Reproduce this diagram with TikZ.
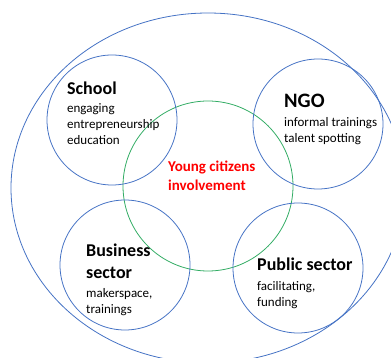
\documentclass[tikz,border=0pt]{standalone}
\usepackage{fontspec}
\setmainfont{Carlito}
\usepackage{tikz}
\usetikzlibrary{positioning}
\definecolor{ringblue}{RGB}{68,114,196}
\definecolor{ringgreen}{RGB}{50,172,100}
\definecolor{hotred}{RGB}{255,0,0}

\begin{document}
\begin{tikzpicture}[x=1pt,y=-1pt,
  ring/.style={draw=ringblue,line width=0.8pt,circle,minimum size=130pt,inner sep=0pt},
  head/.style={anchor=base west,inner sep=0pt,font={\fontsize{18}{21}\selectfont\bfseries}},
  body/.style={anchor=base west,inner sep=0pt,align=left,font={\fontsize{13}{16}\selectfont}}]
\useasboundingbox (0,0) rectangle (391,358);

\begin{scope}
\clip (0,0) rectangle (391,358);
\draw[ringblue,line width=0.8pt] (208,188) ellipse (197 and 175);
\end{scope}

\node[draw=ringgreen,line width=0.8pt,circle,minimum size=170pt,inner sep=0pt] (young) at (208,186) {};
\node[ring] (school) at (112,120) {};
\node[ring] (ngo) at (318,124) {};
\node[ring] (business) at (125,265) {};
\node[ring] (public) at (298,268) {};

% multi-line nodes sit on the baseline of their last line
\node[head] (schoolT) at (67,95) {School};
\node[body] (schoolB) at (67,145) {engaging\\entrepreneurship\\education};

\node[head,font={\fontsize{20.5}{24}\selectfont\bfseries}] (ngoT) at (284,108) {NGO};
\node[body] (ngoB) at (284,143) {informal trainings\\talent spotting};

\node[head] (businessT) at (86,257) {Business};
\node[head] (businessS) at (86,278) {sector};
\node[body] (businessB) at (86,313) {makerspace,\\trainings};

\node[head] (publicT) at (257,271) {Public sector};
\node[body] (publicB) at (257,306) {facilitating,\\funding};

\node[anchor=base west,inner sep=0pt,align=left,text=hotred,
  font={\fontsize{15}{19}\selectfont\bfseries}] (youngT) at (168,191) {Young citizens\\involvement};
\end{tikzpicture}
\end{document}
